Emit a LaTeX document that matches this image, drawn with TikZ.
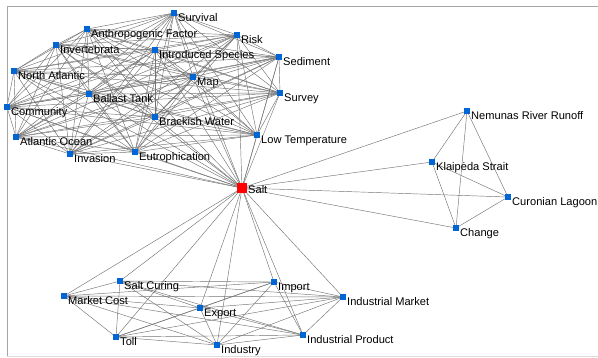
\documentclass[tikz,border=0pt]{standalone}
\usepackage{fontspec}
\setmainfont{Liberation Sans}
\usetikzlibrary{backgrounds}
\definecolor{nodeblue}{RGB}{0,102,214}
\definecolor{edgegray}{RGB}{115,115,115}
\definecolor{framegray}{RGB}{165,165,165}
\definecolor{framelight}{RGB}{220,220,220}

% a blue term square with its caption to the right
\newcommand\termnode[4]{%
  \node[term] (#1) at (#2,#3) {};
  \node[tag] (#1-t) at (#2+4,#3+8) {#4};}

% join every pair of the named nodes
\newcommand\clique[1]{%
  \foreach \a [count=\i] in {#1} {
    \foreach \b [count=\j] in {#1} {
      \ifnum\j>\i \draw[link] (\a.center) -- (\b.center); \fi
    }
  }}

% join the hub to each of the named nodes
\newcommand\spokes[1]{%
  \foreach \a in {#1} {\draw[link] (salt.center) -- (\a.center);}}

\begin{document}
\begin{tikzpicture}[x=1pt,y=-1pt,
  term/.style={rectangle, fill=nodeblue, minimum size=6pt, inner sep=0pt, outer sep=0pt},
  hub/.style={rectangle, fill=red, minimum size=10pt, inner sep=0pt, outer sep=0pt},
  tag/.style={anchor=base west, inner sep=0pt, font=\fontsize{11.1}{13}\selectfont},
  link/.style={draw=edgegray, line width=0.45pt}]
\useasboundingbox (0,0) rectangle (598,357);

% frame
\draw[framegray, line width=0.9pt] (7,357) -- (7,6) -- (598,6);
\draw[framelight, line width=0.9pt] (7,356) -- (598,356);

% upper cluster
\termnode{surv}{174}{13}{Survival}
\termnode{anth}{87}{29}{Anthropogenic Factor}
\termnode{risk}{237}{35}{Risk}
\termnode{invt}{56}{45}{Invertebrata}
\termnode{intro}{155}{50}{Introduced Species}
\termnode{sed}{279}{57}{Sediment}
\termnode{natl}{14}{71}{North Atlantic}
\termnode{map}{193}{77}{Map}
\termnode{surv2}{280}{93}{Survey}
\termnode{ball}{89}{94}{Ballast Tank}
\termnode{comm}{7}{107}{Community}
\termnode{brack}{155}{117}{Brackish Water}
\termnode{atl}{16}{137}{Atlantic Ocean}
\termnode{lowt}{257}{135}{Low Temperature}
\termnode{invas}{70}{154}{Invasion}
\termnode{eutro}{135}{152}{Eutrophication}

% right cluster
\termnode{nem}{467}{111}{Nemunas River Runoff}
\termnode{klai}{432}{162}{Klaipėda Strait}
\termnode{cur}{508}{197}{Curonian Lagoon}
\termnode{chg}{456}{228}{Change}

% lower cluster
\termnode{cure}{120}{281}{Salt Curing}
\termnode{mcost}{64}{296}{Market Cost}
\termnode{imp}{274}{282}{Import}
\termnode{imkt}{343}{297}{Industrial Market}
\termnode{exp}{200}{308}{Export}
\termnode{toll}{116}{337}{Toll}
\termnode{iprod}{303}{335}{Industrial Product}
\termnode{ind}{217}{345}{Industry}

% central hub
\node[hub] (salt) at (242,188) {};
\node[tag] (salt-t) at (248,193) {Salt};

\begin{scope}[on background layer]
  \clique{surv,anth,risk,invt,intro,sed,natl,map,surv2,ball,comm,brack,atl,lowt,invas,eutro}
  \clique{nem,klai,cur,chg}
  \clique{cure,mcost,imp,imkt,exp,toll,iprod,ind}
  \spokes{surv,anth,risk,invt,intro,sed,natl,map,surv2,ball,comm,brack,atl,lowt,invas,eutro}
  \spokes{nem,klai,cur,chg}
  \spokes{cure,mcost,imp,imkt,exp,toll,iprod,ind}
\end{scope}
\end{tikzpicture}
\end{document}
